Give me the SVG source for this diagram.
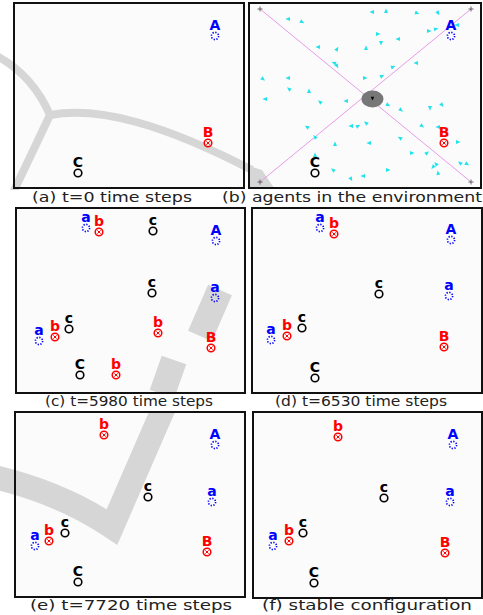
<svg xmlns="http://www.w3.org/2000/svg" xmlns:xlink="http://www.w3.org/1999/xlink" width="483" height="615" viewBox="0 0 483 615">
<style>
.pan{fill:#fbfbfb;stroke:none}
.frm{fill:none;stroke:#111;stroke-width:2}
.cap{font-family:"DejaVu Sans","Liberation Sans",sans-serif;font-size:13.5px;fill:#222;text-anchor:middle}
.lb{font-family:"DejaVu Sans","Liberation Sans",sans-serif;font-weight:bold;font-size:14px;text-anchor:middle}
.bl{fill:#0000ff}.rd{fill:#ff0000}.bk{fill:#000}
.wm{fill:#d6d6d6}
.wms{fill:none;stroke:#d6d6d6}
.ag{fill:#22e3ec}
</style>
<defs>
<g id="sa"><circle r="3.6" fill="none" stroke="#0000ff" stroke-width="1.6" stroke-dasharray="1.3 1.5"/></g>
<g id="sb"><circle r="3.8" fill="none" stroke="#ff0000" stroke-width="1.5"/><path d="M-1.6,-1.6L1.6,1.6M1.6,-1.6L-1.6,1.6" stroke="#ff0000" stroke-width="1"/></g>
<g id="sc"><circle r="3.8" fill="none" stroke="#000" stroke-width="1.6"/></g>
<path id="tri" d="M2.6,0 L-2,-2 L-2,2 Z"/>
<path id="pl" d="M-2.5,0H2.5M0,-2.5V2.5" stroke="#555" stroke-width="0.9"/>
</defs>
<rect width="483" height="615" fill="#fff"/>
<!-- panel backgrounds -->
<rect class="pan" x="14" y="3" width="230" height="185"/>
<rect class="pan" x="249" y="3" width="232" height="185"/>
<rect class="pan" x="16" y="208" width="229" height="185"/>
<rect class="pan" x="252" y="208" width="230" height="185"/>
<rect class="pan" x="15" y="412" width="230" height="185"/>
<rect class="pan" x="253" y="412" width="229" height="186"/>
<!-- faint background swooshes -->
<g id="watermark">
<path class="wms" stroke-width="8" d="M-5,55 Q32,74 50,115 M50,115 C100,106 165,125 252,170 M50,115 L12,195"/>
<polygon class="wm" points="249,166 262,170 274,188 249,188"/>
<path class="wms" stroke-width="24" stroke-linejoin="miter" d="M-10,476 Q60,492 112,527 L165,405"/>
<path class="wms" stroke-width="26" d="M220,290 L200,336 M174,360 L162,394"/>
</g>
<!-- caption strips -->
<rect x="0" y="190" width="483" height="17" fill="#fff"/>
<rect x="0" y="394" width="483" height="17" fill="#fff"/>
<rect x="0" y="599" width="483" height="16" fill="#fff"/>
<!-- frames -->
<rect class="frm" x="14" y="3" width="230" height="185"/>
<rect class="frm" x="249" y="3" width="232" height="185"/>
<rect class="frm" x="16" y="208" width="229" height="185"/>
<rect class="frm" x="252" y="208" width="230" height="185"/>
<rect class="frm" x="15" y="412" width="230" height="185"/>
<rect class="frm" x="253" y="412" width="229" height="186"/>
<!-- panel b environment -->
<g id="env">
<path d="M260,9 L471,182 M471,9 L260,182" stroke="#e89be8" stroke-width="1"/>
<use href="#pl" x="260" y="9"/><use href="#pl" x="471" y="9"/><use href="#pl" x="260" y="182"/><use href="#pl" x="471" y="182"/>
<g class="ag">
<use href="#tri" transform="translate(288,19) rotate(180)"/>
<use href="#tri" transform="translate(302,22) rotate(30)"/>
<use href="#tri" transform="translate(372,12) rotate(180)"/>
<use href="#tri" transform="translate(386,11) rotate(-90)"/>
<use href="#tri" transform="translate(417,13) rotate(20)"/>
<use href="#tri" transform="translate(438,13) rotate(60)"/>
<use href="#tri" transform="translate(457,25) rotate(180)"/>
<use href="#tri" transform="translate(429,31) rotate(0)"/>
<use href="#tri" transform="translate(436,29) rotate(-10)"/>
<use href="#tri" transform="translate(378,34) rotate(0)"/>
<use href="#tri" transform="translate(398,39) rotate(180)"/>
<use href="#tri" transform="translate(381,43) rotate(90)"/>
<use href="#tri" transform="translate(318,47) rotate(180)"/>
<use href="#tri" transform="translate(337,49) rotate(-60)"/>
<use href="#tri" transform="translate(366,48) rotate(-90)"/>
<use href="#tri" transform="translate(334,63) rotate(200)"/>
<use href="#tri" transform="translate(337,66) rotate(60)"/>
<use href="#tri" transform="translate(416,63) rotate(180)"/>
<use href="#tri" transform="translate(393,67) rotate(-20)"/>
<use href="#tri" transform="translate(382,76) rotate(-30)"/>
<use href="#tri" transform="translate(365,78) rotate(0)"/>
<use href="#tri" transform="translate(263,79) rotate(40)"/>
<use href="#tri" transform="translate(288,78) rotate(180)"/>
<use href="#tri" transform="translate(289,89) rotate(-140)"/>
<use href="#tri" transform="translate(309,91) rotate(-90)"/>
<use href="#tri" transform="translate(265,99) rotate(180)"/>
<use href="#tri" transform="translate(320,102) rotate(-140)"/>
<use href="#tri" transform="translate(346,101) rotate(180)"/>
<use href="#tri" transform="translate(388,105) rotate(30)"/>
<use href="#tri" transform="translate(401,110) rotate(40)"/>
<use href="#tri" transform="translate(430,108) rotate(90)"/>
<use href="#tri" transform="translate(442,105) rotate(50)"/>
<use href="#tri" transform="translate(307,127) rotate(-150)"/>
<use href="#tri" transform="translate(351,126) rotate(180)"/>
<use href="#tri" transform="translate(358,126) rotate(-30)"/>
<use href="#tri" transform="translate(366,123) rotate(220)"/>
<use href="#tri" transform="translate(422,126) rotate(40)"/>
<use href="#tri" transform="translate(438,127) rotate(180)"/>
<use href="#tri" transform="translate(315,137) rotate(-130)"/>
<use href="#tri" transform="translate(335,144) rotate(-90)"/>
<use href="#tri" transform="translate(369,143) rotate(180)"/>
<use href="#tri" transform="translate(400,138) rotate(-150)"/>
<use href="#tri" transform="translate(458,142) rotate(0)"/>
<use href="#tri" transform="translate(412,153) rotate(0)"/>
<use href="#tri" transform="translate(427,153) rotate(-40)"/>
<use href="#tri" transform="translate(315,155) rotate(-90)"/>
<use href="#tri" transform="translate(460,163) rotate(-140)"/>
<use href="#tri" transform="translate(467,164) rotate(30)"/>
<use href="#tri" transform="translate(436,164) rotate(-130)"/>
<use href="#tri" transform="translate(433,167) rotate(130)"/>
<use href="#tri" transform="translate(438,173) rotate(-100)"/>
<use href="#tri" transform="translate(388,170) rotate(0)"/>
<use href="#tri" transform="translate(333,170) rotate(-140)"/>
<use href="#tri" transform="translate(351,179) rotate(60)"/>
<use href="#tri" transform="translate(363,176) rotate(180)"/>
</g>
<ellipse cx="372.5" cy="99" rx="11" ry="8.5" fill="#777"/>
<path d="M370.8,96.8 L374.2,96.8 L372.5,100.4 Z" fill="#000"/>
</g>
<!-- agents -->
<g id="pa">
<text class="lb bl" x="215" y="30">A</text><use href="#sa" x="215" y="36"/>
<text class="lb rd" x="208" y="137">B</text><use href="#sb" x="208" y="143"/>
<text class="lb bk" x="78" y="167">C</text><use href="#sc" x="78" y="173"/>
</g>
<g id="pb">
<text class="lb bl" x="451" y="30">A</text><use href="#sa" x="451" y="36"/>
<text class="lb rd" x="444" y="137">B</text><use href="#sb" x="444" y="143"/>
<text class="lb bk" x="315" y="167">C</text><use href="#sc" x="315" y="173"/>
</g>
<g id="pc">
<text class="lb bl" x="86" y="222">a</text><use href="#sa" x="86" y="228"/>
<text class="lb rd" x="99" y="226">b</text><use href="#sb" x="99" y="232"/>
<text class="lb bk" x="153" y="225">c</text><use href="#sc" x="153" y="231"/>
<text class="lb bl" x="216" y="235">A</text><use href="#sa" x="216" y="241"/>
<text class="lb bk" x="152" y="287">c</text><use href="#sc" x="152" y="293"/>
<text class="lb bl" x="215" y="292">a</text><use href="#sa" x="215" y="298"/>
<text class="lb bk" x="69" y="323">c</text><use href="#sc" x="69" y="329"/>
<text class="lb rd" x="55" y="331">b</text><use href="#sb" x="55" y="337"/>
<text class="lb bl" x="39" y="335">a</text><use href="#sa" x="39" y="341"/>
<text class="lb rd" x="158" y="327">b</text><use href="#sb" x="158" y="333"/>
<text class="lb rd" x="211" y="342">B</text><use href="#sb" x="211" y="348"/>
<text class="lb bk" x="80" y="369">C</text><use href="#sc" x="80" y="375"/>
<text class="lb rd" x="116" y="369">b</text><use href="#sb" x="116" y="375"/>
</g>
<g id="pd">
<text class="lb bl" x="320" y="222">a</text><use href="#sa" x="320" y="228"/>
<text class="lb rd" x="334" y="228">b</text><use href="#sb" x="334" y="234"/>
<text class="lb bl" x="451" y="234">A</text><use href="#sa" x="451" y="240"/>
<text class="lb bk" x="379" y="288">c</text><use href="#sc" x="379" y="294"/>
<text class="lb bl" x="449" y="290">a</text><use href="#sa" x="449" y="296"/>
<text class="lb bk" x="302" y="322">c</text><use href="#sc" x="302" y="328"/>
<text class="lb rd" x="287" y="330">b</text><use href="#sb" x="287" y="336"/>
<text class="lb bl" x="271" y="334">a</text><use href="#sa" x="271" y="340"/>
<text class="lb rd" x="444" y="341">B</text><use href="#sb" x="444" y="347"/>
<text class="lb bk" x="315" y="372">C</text><use href="#sc" x="315" y="378"/>
</g>
<g id="pe">
<text class="lb rd" x="104" y="429">b</text><use href="#sb" x="104" y="435"/>
<text class="lb bl" x="215" y="439">A</text><use href="#sa" x="215" y="445"/>
<text class="lb bk" x="148" y="491">c</text><use href="#sc" x="148" y="497"/>
<text class="lb bl" x="212" y="496">a</text><use href="#sa" x="212" y="502"/>
<text class="lb bk" x="65" y="527">c</text><use href="#sc" x="65" y="533"/>
<text class="lb rd" x="49" y="535">b</text><use href="#sb" x="49" y="541"/>
<text class="lb bl" x="35" y="540">a</text><use href="#sa" x="35" y="546"/>
<text class="lb rd" x="207" y="546">B</text><use href="#sb" x="207" y="552"/>
<text class="lb bk" x="78" y="576">C</text><use href="#sc" x="78" y="582"/>
</g>
<g id="pf">
<text class="lb rd" x="338" y="431">b</text><use href="#sb" x="338" y="437"/>
<text class="lb bl" x="453" y="439">A</text><use href="#sa" x="453" y="445"/>
<text class="lb bk" x="384" y="492">c</text><use href="#sc" x="384" y="498"/>
<text class="lb bl" x="450" y="496">a</text><use href="#sa" x="450" y="502"/>
<text class="lb bk" x="303" y="527">c</text><use href="#sc" x="303" y="533"/>
<text class="lb rd" x="289" y="535">b</text><use href="#sb" x="289" y="541"/>
<text class="lb bl" x="273" y="540">a</text><use href="#sa" x="273" y="546"/>
<text class="lb rd" x="445" y="547">B</text><use href="#sb" x="445" y="553"/>
<text class="lb bk" x="314" y="577">C</text><use href="#sc" x="314" y="583"/>
</g>
<!-- captions -->
<g id="captions">
<text class="cap" x="112" y="202" textLength="160" lengthAdjust="spacingAndGlyphs">(a) t=0 time steps</text>
<text class="cap" x="352" y="202" textLength="260" lengthAdjust="spacingAndGlyphs">(b) agents in the environment</text>
<text class="cap" x="129" y="406" textLength="168" lengthAdjust="spacingAndGlyphs">(c) t=5980 time steps</text>
<text class="cap" x="361" y="406" textLength="172" lengthAdjust="spacingAndGlyphs">(d) t=6530 time steps</text>
<text class="cap" x="131" y="610" textLength="202" lengthAdjust="spacingAndGlyphs">(e) t=7720 time steps</text>
<text class="cap" x="367" y="610" textLength="210" lengthAdjust="spacingAndGlyphs">(f) stable configuration</text>
</g>
</svg>
